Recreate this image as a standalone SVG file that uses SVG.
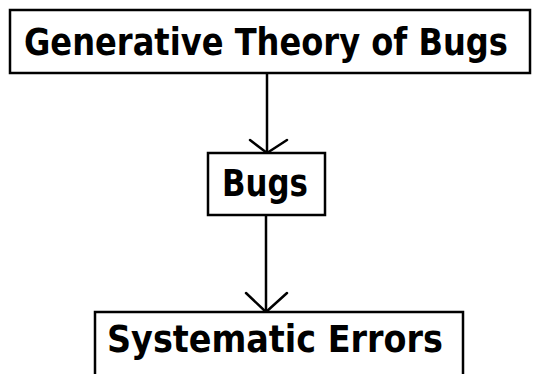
<svg xmlns="http://www.w3.org/2000/svg" width="533" height="374" viewBox="0 0 533 374">
  <style>
    .box { fill: #fff; stroke: #000; stroke-width: 2.5; }
    .label { font-family: "DejaVu Sans Condensed", "DejaVu Sans", "Liberation Sans", sans-serif; font-weight: bold; font-size: 37px; fill: #000; }
    .edge { fill: none; stroke: #000; stroke-width: 2.5; }
    .head { fill: none; stroke: #000; stroke-width: 2.5; stroke-linecap: round; stroke-linejoin: miter; }
  </style>
  <rect width="533" height="374" fill="#fff"/>

  <g id="connectors">
    <line class="edge" x1="267" y1="73" x2="267" y2="153"/>
    <polyline class="head" points="250,140 267,153 287,140"/>
    <line class="edge" x1="266" y1="215" x2="266" y2="312"/>
    <polyline class="head" points="246,293 266,312 287,293"/>
  </g>

  <g id="generative-theory">
    <rect class="box" x="10" y="10" width="520" height="63"/>
    <text class="label" x="24" y="55" textLength="484" lengthAdjust="spacingAndGlyphs">Generative Theory of Bugs</text>
  </g>

  <g id="bugs">
    <rect class="box" x="208" y="153" width="117" height="62"/>
    <text class="label" x="222" y="196" textLength="86" lengthAdjust="spacingAndGlyphs">Bugs</text>
  </g>

  <g id="systematic-errors">
    <rect class="box" x="95" y="312" width="368" height="66"/>
    <text class="label" x="107" y="352" textLength="336" lengthAdjust="spacingAndGlyphs">Systematic Errors</text>
  </g>
</svg>
